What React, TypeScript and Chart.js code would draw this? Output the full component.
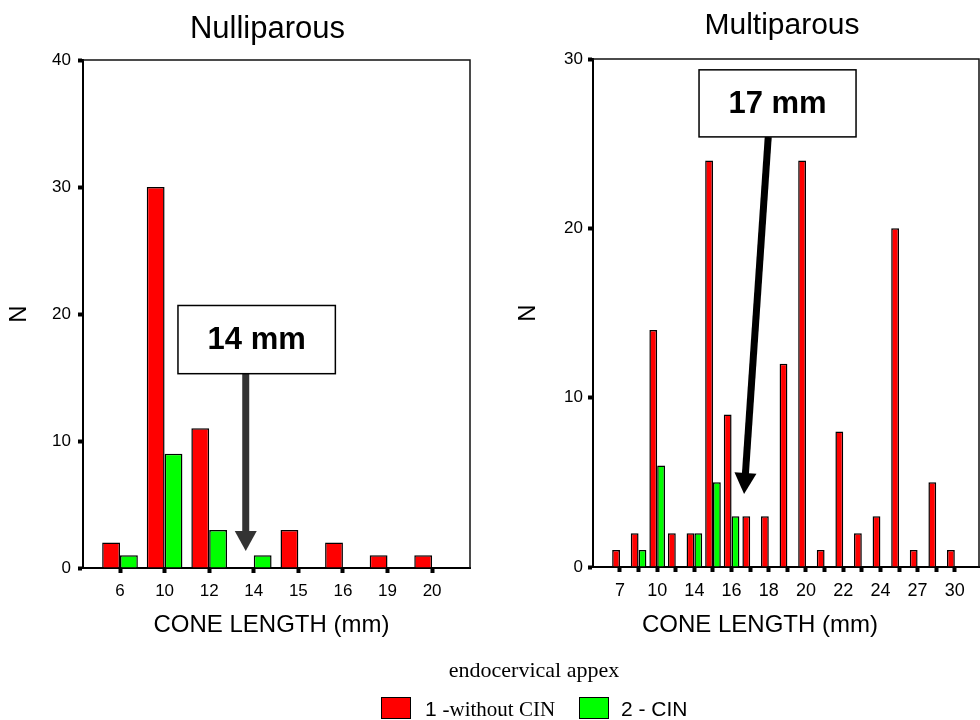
import React, { useEffect, useRef } from 'react';
import { Chart, registerables } from 'chart.js';

Chart.register(...registerables);

// ---------- DATA ----------
const seriesNames = ['1 -without CIN', '2 - CIN'];

const leftCategories = ['6', '10', '12', '14', '15', '16', '19', '20'];
const leftWithoutCIN = [2, 30, 11, null, 3, 2, 1, 1];
const leftCIN = [1, 9, 3, 1, null, null, null, null];

const rightCategories = ['7', '8', '10', '12', '14', '15', '16', '17', '18', '19', '20', '21', '22', '23', '24', '25', '27', '28', '30'];
const rightWithoutCIN = [1, 2, 14, 2, 2, 24, 9, 3, 3, 12, 24, 1, 8, 2, 3, 20, 1, 5, 1];
const rightCIN = [null, 1, 6, null, 2, 5, 3, null, null, null, null, null, null, null, null, null, null, null, null];

const leftYMax = 40;
const rightYMax = 30;
const yStep = 10;

const leftTitle = 'Nulliparous';
const rightTitle = 'Multiparous';
const xAxisTitle = 'CONE LENGTH (mm)';
const yAxisTitle = 'N';
const legendTitle = 'endocervical appex';
const leftNote = '14 mm';
const rightNote = '17 mm';

// ---------- STYLE ----------
const SANS = '"Liberation Sans", Arial, Helvetica, sans-serif';
const SERIF = '"Liberation Serif", "Times New Roman", serif';
const RED = '#ff0000';
const GREEN = '#00ff00';

const decorPlugin = {
  id: 'decor',
  afterDraw(chart: any, _args: any, o: any) {
    const { ctx, chartArea: a } = chart;
    const xs = chart.scales.x;
    const ys = chart.scales.y;
    ctx.save();
    // frame top/right
    ctx.strokeStyle = '#111';
    ctx.lineWidth = 1.5;
    ctx.beginPath();
    ctx.moveTo(a.left, a.top);
    ctx.lineTo(a.right, a.top);
    ctx.lineTo(a.right, a.bottom);
    ctx.stroke();

    const cx = (a.left + a.right) / 2;
    ctx.fillStyle = '#000';
    ctx.textAlign = 'center';
    ctx.textBaseline = 'alphabetic';
    ctx.font = o.titleFont;
    ctx.fillText(o.title, cx + o.titleDx, o.titleBaseline);
    ctx.font = o.xTitleFont;
    ctx.fillText(o.xTitle, cx + o.xTitleDx, o.xTitleBaseline);

    // annotation box
    const n = o.note;
    const bx1 = xs.getPixelForValue(n.box[0]);
    const bx2 = xs.getPixelForValue(n.box[1]);
    const by1 = ys.getPixelForValue(n.box[2]);
    const by2 = ys.getPixelForValue(n.box[3]);
    // arrow
    const sx = xs.getPixelForValue(n.from[0]);
    const sy = ys.getPixelForValue(n.from[1]);
    const tx = xs.getPixelForValue(n.to[0]);
    const ty = ys.getPixelForValue(n.to[1]);
    const dx = tx - sx;
    const dy = ty - sy;
    const len = Math.hypot(dx, dy);
    const ux = dx / len;
    const uy = dy / len;
    const hx = tx - ux * n.headLen;
    const hy = ty - uy * n.headLen;
    ctx.strokeStyle = n.arrowColor;
    ctx.fillStyle = n.arrowColor;
    ctx.lineWidth = n.shaft;
    ctx.lineCap = 'butt';
    ctx.beginPath();
    ctx.moveTo(sx, sy);
    ctx.lineTo(hx + ux * 1, hy + uy * 1);
    ctx.stroke();
    ctx.beginPath();
    ctx.moveTo(tx, ty);
    ctx.lineTo(hx - uy * n.headHalf, hy + ux * n.headHalf);
    ctx.lineTo(hx + uy * n.headHalf, hy - ux * n.headHalf);
    ctx.closePath();
    ctx.fill();

    ctx.fillStyle = '#fff';
    ctx.fillRect(bx1, by1, bx2 - bx1, by2 - by1);
    ctx.strokeStyle = '#000';
    ctx.lineWidth = 1.5;
    ctx.strokeRect(bx1, by1, bx2 - bx1, by2 - by1);
    ctx.fillStyle = '#000';
    ctx.font = 'bold 31px ' + SANS;
    ctx.textBaseline = 'middle';
    ctx.fillText(n.text, (bx1 + bx2) / 2, (by1 + by2) / 2 + 1);
    ctx.restore();
  },
};

type PanelCfg = {
  categories: string[];
  red: (number | null)[];
  green: (number | null)[];
  yMax: number;
  xMin: number;
  xMax: number;
  top: number;
  padRight: number;
  yAxisWidth: number;
  xAxisHeight: number;
  nPad: number;
  yTickPad: number;
  xTickSize: number;
  catPct: number;
  labelEvery: number;
  decor: any;
};

function buildConfig(c: PanelCfg): any {
  const tickFont = { family: SANS, size: 17 };
  return {
    type: 'bar',
    data: {
      datasets: [
        {
          label: seriesNames[0],
          data: c.red.map((v, i) => ({ x: i, y: v })),
          backgroundColor: RED,
          borderColor: '#000',
          borderWidth: 1.5,
          borderSkipped: 'start',
          categoryPercentage: c.catPct,
          barPercentage: 1,
        },
        {
          label: seriesNames[1],
          data: c.green.map((v, i) => ({ x: i, y: v })),
          backgroundColor: GREEN,
          borderColor: '#000',
          borderWidth: 1.5,
          borderSkipped: 'start',
          categoryPercentage: c.catPct,
          barPercentage: 1,
        },
      ],
    },
    options: {
      responsive: false,
      animation: false,
      devicePixelRatio: 1,
      layout: { padding: { left: 0, right: c.padRight, top: c.top, bottom: 0 } },
      plugins: {
        legend: { display: false },
        tooltip: { enabled: false },
        title: { display: false },
        decor: c.decor,
      },
      scales: {
        x: {
          type: 'linear',
          min: c.xMin,
          max: c.xMax,
          bounds: 'data',
          offset: false,
          grid: {
            offset: false,
            drawOnChartArea: false,
            drawTicks: true,
            tickLength: 5,
            tickWidth: 4,
            tickColor: '#000',
          },
          border: { display: true, color: '#000', width: 2 },
          ticks: {
            autoSkip: false,
            maxRotation: 0,
            minRotation: 0,
            padding: 8,
            color: '#000',
            font: { family: SANS, size: c.xTickSize },
            callback: (v: number) => {
              const i = Math.round(v);
              return i % c.labelEvery === 0 ? c.categories[i] : '';
            },
          },
          afterBuildTicks: (s: any) => {
            s.ticks = c.categories.map((_, i) => ({ value: i }));
          },
          afterFit: (s: any) => {
            s.height = c.xAxisHeight;
          },
        },
        y: {
          min: 0,
          max: c.yMax,
          grid: {
            drawOnChartArea: false,
            drawTicks: true,
            tickLength: 5,
            tickWidth: 4,
            tickColor: '#000',
          },
          border: { display: true, color: '#000', width: 2 },
          ticks: { stepSize: yStep, padding: c.yTickPad, color: '#000', font: tickFont },
          title: {
            display: true,
            text: yAxisTitle,
            color: '#000',
            font: { family: SANS, size: 24 },
            padding: { top: c.nPad, bottom: 0 },
          },
          afterFit: (s: any) => {
            s.width = c.yAxisWidth;
          },
        },
      },
    },
    plugins: [decorPlugin],
  };
}

const leftCfg: PanelCfg = {
  categories: leftCategories,
  red: leftWithoutCIN,
  green: leftCIN,
  yMax: leftYMax,
  xMin: -0.83,
  xMax: 7.85,
  top: 60,
  padRight: 20,
  yAxisWidth: 83,
  xAxisHeight: 92,
  nPad: 5,
  yTickPad: 7,
  xTickSize: 17,
  catPct: 0.8,
  labelEvery: 1,
  decor: {
    title: leftTitle,
    titleFont: '31px ' + SANS,
    titleDx: -9,
    titleBaseline: 38,
    xTitle: xAxisTitle,
    xTitleFont: '24px ' + SANS,
    xTitleDx: -5,
    xTitleBaseline: 632,
    note: {
      text: leftNote,
      box: [1.3, 4.83, 20.67, 15.3],
      from: [2.82, 15.3],
      to: [2.82, 1.34],
      headLen: 20,
      headHalf: 11,
      shaft: 7,
      arrowColor: '#333',
    },
  },
};

const rightCfg: PanelCfg = {
  categories: rightCategories,
  red: rightWithoutCIN,
  green: rightCIN,
  yMax: rightYMax,
  xMin: -1.45,
  xMax: 19.3,
  top: 59,
  padRight: 1,
  yAxisWidth: 103,
  xAxisHeight: 93,
  nPad: 24,
  yTickPad: 5,
  xTickSize: 18,
  catPct: 0.84,
  labelEvery: 2,
  decor: {
    title: rightTitle,
    titleFont: '30px ' + SANS,
    titleDx: -4,
    titleBaseline: 33.5,
    xTitle: xAxisTitle,
    xTitleFont: '24px ' + SANS,
    xTitleDx: -26,
    xTitleBaseline: 632,
    note: {
      text: rightNote,
      box: [4.25, 12.69, 29.36, 25.4],
      from: [7.97, 25.4],
      to: [6.67, 4.31],
      headLen: 21,
      headHalf: 11,
      shaft: 7,
      arrowColor: '#000',
    },
  },
};

function Panel({ cfg, left }: { cfg: PanelCfg; left: number }) {
  const ref = useRef<HTMLCanvasElement | null>(null);
  useEffect(() => {
    if (!ref.current) return;
    const chart = new Chart(ref.current, buildConfig(cfg));
    return () => chart.destroy();
  }, [cfg]);
  return (
    <canvas
      ref={ref}
      width={490}
      height={660}
      style={{ position: 'absolute', left, top: 0, width: 490, height: 660 }}
    />
  );
}

const swatch = (color: string, left: number): React.CSSProperties => ({
  position: 'absolute',
  left,
  top: 697,
  width: 28,
  height: 20,
  background: color,
  border: '1px solid #000',
});

export default function App() {
  return (
    <div
      style={{
        position: 'fixed',
        left: 0,
        top: 0,
        width: 980,
        height: 720,
        overflow: 'hidden',
        background: '#fff',
      }}
    >
      <Panel cfg={leftCfg} left={0} />
      <Panel cfg={rightCfg} left={490} />
      <div
        style={{
          position: 'absolute',
          left: 334,
          top: 657,
          width: 400,
          textAlign: 'center',
          fontFamily: SERIF,
          fontSize: 22,
          lineHeight: '26px',
          color: '#000',
        }}
      >
        {legendTitle}
      </div>
      <div style={swatch(RED, 381)} />
      <div
        style={{
          position: 'absolute',
          left: 425,
          top: 698,
          whiteSpace: 'nowrap',
          fontSize: 21,
          lineHeight: '22px',
          color: '#000',
        }}
      >
        <span style={{ fontFamily: SANS }}>{seriesNames[0].split(' ')[0]} </span>
        <span style={{ fontFamily: SERIF }}>{seriesNames[0].slice(2)}</span>
      </div>
      <div style={swatch(GREEN, 579)} />
      <div
        style={{
          position: 'absolute',
          left: 621,
          top: 698,
          whiteSpace: 'nowrap',
          fontFamily: SANS,
          fontSize: 21,
          lineHeight: '22px',
          color: '#000',
        }}
      >
        {seriesNames[1]}
      </div>
    </div>
  );
}
